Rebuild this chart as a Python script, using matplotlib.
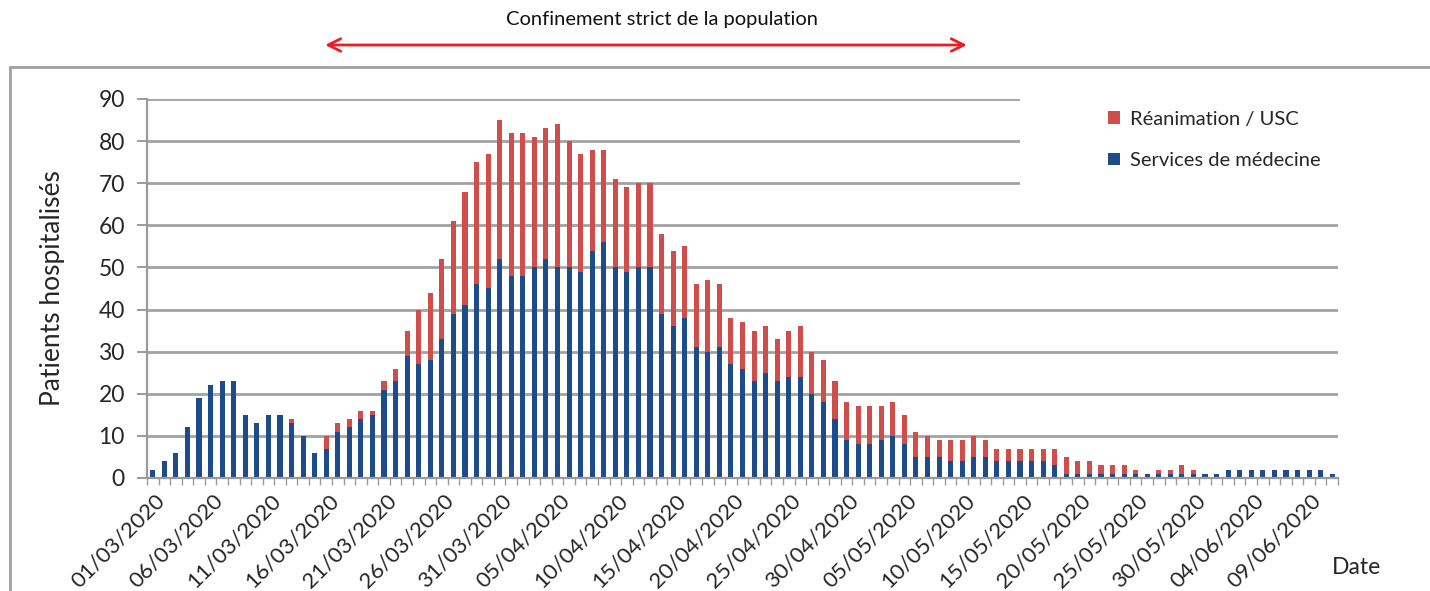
import numpy as np
import matplotlib
matplotlib.use("Agg")
import matplotlib.pyplot as plt
import matplotlib.transforms as mtransforms
from matplotlib.patches import Patch, Rectangle
from matplotlib.lines import Line2D

plt.rcParams['font.family'] = ['Lato', 'DejaVu Sans']

# ---------------- data ----------------
services = [2, 4, 6, 12, 19, 22, 23, 23, 15, 13,
            15, 15, 13, 10, 6, 7, 11, 12, 14, 15,
            21, 23, 29, 27, 28, 33, 39, 41, 46, 45,
            52, 48, 48, 50, 52, 50, 50, 49, 54, 56,
            50, 49, 50, 50, 39, 36, 38, 31, 30, 31,
            27, 26, 23, 25, 23, 24, 24, 20, 18, 14,
            9, 8, 8, 9, 10, 8, 5, 5, 5, 4,
            4, 5, 5, 4, 4, 4, 4, 4, 3, 1,
            1, 1, 1, 1, 1, 1, 1, 1, 1, 1,
            1, 1, 1, 2, 2, 2, 2, 2, 2, 2,
            2, 2, 1]
totals = [2, 4, 6, 12, 19, 22, 23, 23, 15, 13,
          15, 15, 14, 10, 6, 10, 13, 14, 16, 16,
          23, 26, 35, 40, 44, 52, 61, 68, 75, 77,
          85, 82, 82, 81, 83, 84, 80, 77, 78, 78,
          71, 69, 70, 70, 58, 54, 55, 46, 47, 46,
          38, 37, 35, 36, 33, 35, 36, 30, 28, 23,
          18, 17, 17, 17, 18, 15, 11, 10, 9, 9,
          9, 10, 9, 7, 7, 7, 7, 7, 7, 5,
          4, 4, 3, 3, 3, 2, 1, 2, 2, 3,
          2, 1, 1, 2, 2, 2, 2, 2, 2, 2,
          2, 2, 1]
reanimation = [t - s for t, s in zip(totals, services)]

tick_labels = ["01/03/2020", "06/03/2020", "11/03/2020", "16/03/2020", "21/03/2020",
               "26/03/2020", "31/03/2020", "05/04/2020", "10/04/2020", "15/04/2020",
               "20/04/2020", "25/04/2020", "30/04/2020", "05/05/2020", "10/05/2020",
               "15/05/2020", "20/05/2020", "25/05/2020", "30/05/2020", "04/06/2020",
               "09/06/2020"]
label_step = 5

series_names = ["Réanimation / USC", "Services de médecine"]
color_rea = "#CF4D4B"
color_srv = "#1E4C8A"

lockdown_start = 14.9   # day index (17/03)
lockdown_end = 70.4     # day index (11/05)
lockdown_text_x = 44.0
lockdown_text = "Confinement strict de la population"

# ---------------- figure ----------------
W, H, DPI = 1430, 591, 100
fig = plt.figure(figsize=(W / DPI, H / DPI), dpi=DPI)
fig.patch.set_facecolor("white")

ax_left, ax_right = 147 / W, 1338 / W
ax_bottom, ax_top = (H - 478) / H, (H - 99) / H
ax = fig.add_axes([ax_left, ax_bottom, ax_right - ax_left, ax_top - ax_bottom])

x = np.arange(len(services))
bw = 0.44
ax.bar(x, services, width=bw, color=color_srv, zorder=2)
ax.bar(x, reanimation, width=bw, bottom=services, color=color_rea, zorder=2)

ax.set_xlim(-0.5, len(services) - 0.5)
ax.set_ylim(0, 90)
ax.set_yticks(np.arange(0, 91, 10))
ax.grid(axis='y', color="#A2A2A2", linewidth=2.0)
ax.set_axisbelow(True)

for s in ["top", "right"]:
    ax.spines[s].set_visible(False)
for s in ["left", "bottom"]:
    ax.spines[s].set_color("#9A9A9A")
    ax.spines[s].set_linewidth(1.6)

ax.tick_params(axis='y', direction='out', length=7, width=1.4, color="#9A9A9A",
               labelsize=16.5, labelcolor="#262626", pad=9)

# x ticks: labels every 5 days, small marks between categories
ax.set_xticks(np.arange(0, len(services), label_step))
ax.set_xticklabels(tick_labels, rotation=45, ha='right', va='top',
                   rotation_mode='anchor', fontsize=16, color="#262626")
ax.tick_params(axis='x', which='major', length=0, pad=9)
offset = mtransforms.ScaledTranslation(2 / DPI, 0, fig.dpi_scale_trans)
for lbl in ax.get_xticklabels():
    lbl.set_transform(lbl.get_transform() + offset)
ax.set_xticks(np.arange(-0.5, len(services), 1), minor=True)
ax.tick_params(axis='x', which='minor', direction='out', length=5, width=1.0,
               color="#9A9A9A")

ax.set_ylabel("Patients hospitalisés", fontsize=19, color="#262626", labelpad=24)

fig.text(1356 / W, (H - 567) / H, "Date", fontsize=16.5, color="#262626",
         ha='center', va='center')

# white area behind the legend (hides upper gridlines on the right)
ax.add_patch(Rectangle((0.733, 69.3), 0.3, 22, transform=ax.get_yaxis_transform(),
                       facecolor="white", edgecolor="none", zorder=1.5, clip_on=False))

handles = [Patch(facecolor=color_rea, edgecolor="none"),
           Patch(facecolor=color_srv, edgecolor="none")]
leg = ax.legend(handles, series_names, loc='upper left',
                bbox_to_anchor=((1100 - 147) / 1191, 0.99), frameon=False,
                fontsize=14.5, handlelength=0.6, handleheight=0.6,
                handletextpad=0.5, labelspacing=1.2, borderaxespad=0.0)
for t in leg.get_texts():
    t.set_color("#262626")

# outer chart frame lines (top and left)
fig.add_artist(Line2D([10 / W, 1.0], [(H - 67) / H, (H - 67) / H],
                      transform=fig.transFigure, color="#A0A0A0", linewidth=2))
fig.add_artist(Line2D([10 / W, 10 / W], [0, (H - 67) / H],
                      transform=fig.transFigure, color="#A0A0A0", linewidth=2))

# lockdown arrow and text above the chart
arrow_y = (H - 45) / H
ax.annotate("", xy=(lockdown_start, arrow_y), xytext=(lockdown_end, arrow_y),
            xycoords=('data', 'figure fraction'), textcoords=('data', 'figure fraction'),
            arrowprops=dict(arrowstyle='<->,head_length=0.9,head_width=0.45',
                            color="#EE1C24", linewidth=2.0, shrinkA=0, shrinkB=0))
ax.annotate(lockdown_text, xy=(lockdown_text_x, (H - 20) / H),
            xycoords=('data', 'figure fraction'), ha='center', va='center',
            fontsize=14.5, color="#111111")

fig.savefig("out.png", dpi=DPI)
